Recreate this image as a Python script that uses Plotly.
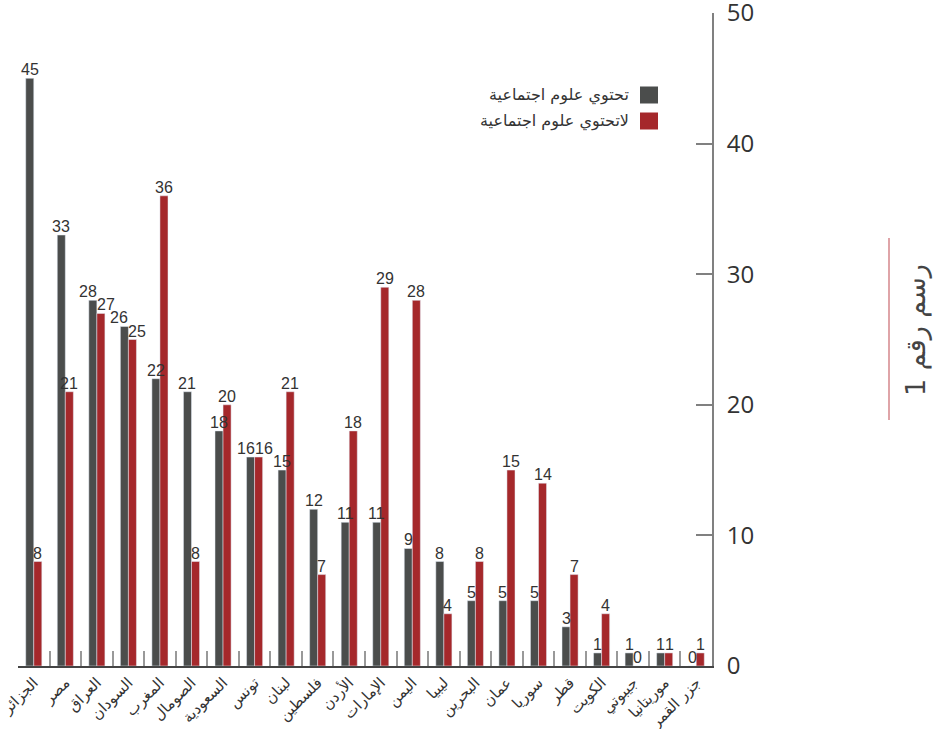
import plotly.graph_objects as go

countries = ["الجزائر", "مصر", "العراق", "السودان", "المغرب", "الصومال", "السعودية",
             "تونس", "لبنان", "فلسطين", "الأردن", "الإمارات", "اليمن", "ليبيا",
             "البحرين", "عمان", "سوريا", "قطر", "الكويت", "جيبوتي", "موريتانيا", "جزر القمر"]
with_social = [45, 33, 28, 26, 22, 21, 18, 16, 15, 12, 11, 11, 9, 8, 5, 5, 5, 3, 1, 1, 1, 0]
without_social = [8, 21, 27, 25, 36, 8, 20, 16, 21, 7, 18, 29, 28, 4, 8, 15, 14, 7, 4, 0, 1, 1]

name_with = "تحتوي علوم اجتماعية"
name_without = "لاتحتوي علوم اجتماعية"
title_text = "رسم رقم 1"
y_ticks = [0, 10, 20, 30, 40, 50]

DARK = "#4b4d4c"
RED = "#a5282b"
TEXT = "#333333"

W, H = 942, 729
ML, MR, MT, MB = 18, 230, 13, 63
PW, PH = W - ML - MR, H - MT - MB
BARGAP = 0.49

cat_w = PW / len(countries)
bar_w = cat_w * (1 - BARGAP) / 2


def px_x(x):
    return (x - ML) / PW


def px_y(y):
    return (H - MB - y) / PH


fig = go.Figure()
fig.add_trace(go.Bar(x=countries, y=with_social, name=name_with, marker_color=DARK,
                     showlegend=False))
fig.add_trace(go.Bar(x=countries, y=without_social, name=name_without, marker_color=RED,
                     showlegend=False))

# value labels above each bar; when a pair sits at nearly the same height the two
# labels are pushed apart so they read side by side instead of overlapping
value_font = dict(size=16, color=TEXT, family="Liberation Sans, Arial")
for c, a, b in zip(countries, with_social, without_social):
    close = abs(a - b) <= 1 and min(a, b) > 0
    if close:
        specs = [(a, "right", 1), (b, "left", -1)]
    else:
        specs = [(a, "center", -bar_w / 2), (b, "center", bar_w / 2)]
    for v, anchor, shift in specs:
        fig.add_annotation(x=c, y=v, xref="x", yref="y", text=str(v), showarrow=False,
                           xanchor=anchor, yanchor="bottom", xshift=shift, yshift=-1,
                           borderpad=0, font=value_font)

# legend drawn by hand so the swatches sit to the right of the labels
legend_rows = [(name_with, DARK, 95), (name_without, RED, 121)]
for label, color, yc in legend_rows:
    fig.add_shape(type="rect", xref="paper", yref="paper",
                  x0=px_x(640), x1=px_x(658), y0=px_y(yc - 8.5), y1=px_y(yc + 8.5),
                  fillcolor=color, line_width=0)
    fig.add_annotation(text=label, xref="paper", yref="paper", x=px_x(631), y=px_y(yc),
                       xanchor="right", yanchor="middle", showarrow=False,
                       font=dict(size=16, color=TEXT))

# side caption with its accent line
fig.add_shape(type="line", xref="paper", yref="paper",
              x0=px_x(889), x1=px_x(889), y0=px_y(238), y1=px_y(420),
              line=dict(color="#d4868b", width=1.5))
fig.add_annotation(text=title_text, xref="paper", yref="paper", x=px_x(916), y=px_y(330),
                   textangle=-90, showarrow=False, xanchor="center", yanchor="middle",
                   font=dict(size=27, color="#444444"))

fig.update_layout(
    width=W, height=H,
    margin=dict(l=ML, r=MR, t=MT, b=MB),
    paper_bgcolor="white", plot_bgcolor="white",
    barmode="group", bargap=BARGAP, bargroupgap=0,
    font=dict(family="DejaVu Sans, Noto Sans", color=TEXT),
    xaxis=dict(showline=True, linecolor="#444444", linewidth=2,
               ticks="inside", tickson="boundaries", ticklen=15, tickwidth=1.5,
               tickcolor="#999999", tickangle=-45, automargin=False,
               tickfont=dict(size=15, color=TEXT), showgrid=False),
    yaxis=dict(side="right", range=[0, 50], tickvals=y_ticks, showgrid=False,
               showline=True, linecolor="#808080", linewidth=2, zeroline=False,
               ticks="inside", ticklen=16, tickwidth=2, tickcolor="#808080",
               ticklabelstandoff=8, automargin=False, ticklabeloverflow="allow",
               tickfont=dict(size=24, color=TEXT, family="Open Sans")),
)

fig.write_html("out.html")
